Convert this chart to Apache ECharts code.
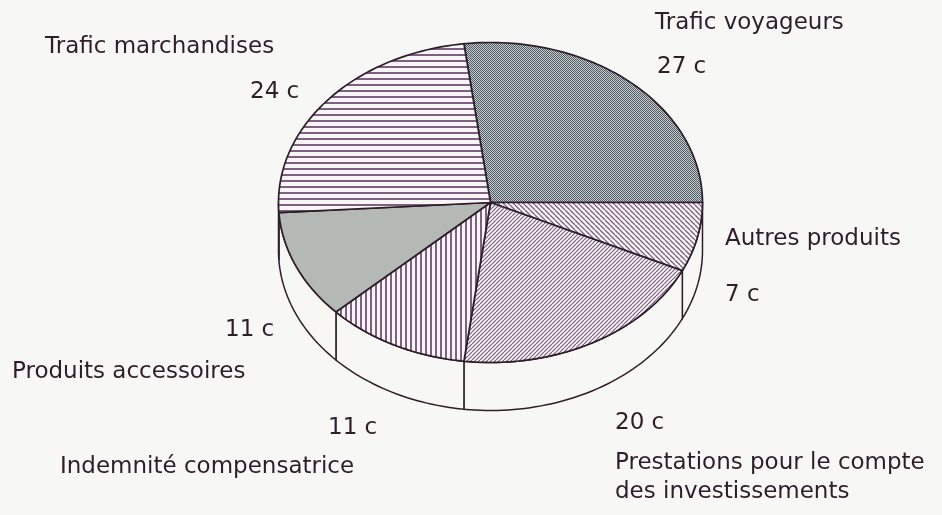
<!DOCTYPE html>
<html>
<head>
<meta charset="utf-8">
<script src="https://cdn.jsdelivr.net/npm/echarts@6/dist/echarts.min.js"></script>
<style>
html, body { margin: 0; padding: 0; background: #f7f7f5; }
#main { width: 942px; height: 515px; }
</style>
</head>
<body>
<div id="main"></div>
<script>
// recettes (en centimes par franc)
var categories = ['Trafic voyageurs', 'Autres produits', 'Prestations pour le compte\ndes investissements', 'Indemnité compensatrice', 'Produits accessoires', 'Trafic marchandises']
var values = [27, 7, 20, 11, 11, 24]
var unit = ' c'

// étiquettes : x gauche, y milieu
var namePos = [[655, 23], [725, 239], [615, 478], [60, 467], [12, 372], [45, 47]]
var valuePos = [[657, 67], [725, 295], [615, 423], [328, 428], [225, 330], [250, 92]]

var ink = '#2e1e2a'
var hatch = '#7e6080'

function makePattern(w, h, draw) {
    var c = document.createElement('canvas')
    c.width = w
    c.height = h
    var ctx = c.getContext('2d')
    ctx.fillStyle = '#f7f5f6'
    ctx.fillRect(0, 0, w, h)
    draw(ctx, w, h)
    return { image: c, repeat: 'repeat' }
}

var fills = [
    // trame serrée
    makePattern(2, 2, function(ctx) {
        ctx.fillStyle = '#bcd2cc'
        ctx.fillRect(0, 0, 2, 2)
        ctx.fillStyle = '#5a5666'
        ctx.fillRect(0, 0, 1, 1)
        ctx.fillRect(1, 1, 1, 1)
    }),
    // hachures \
    makePattern(5, 5, function(ctx, s) {
        ctx.strokeStyle = hatch
        ctx.lineWidth = 1.3
        ;[-s, 0, s].forEach(function(k) {
            ctx.beginPath(); ctx.moveTo(k, 0); ctx.lineTo(k + s, s); ctx.stroke()
        })
    }),
    // hachures /
    makePattern(4, 4, function(ctx, s) {
        ctx.strokeStyle = hatch
        ctx.lineWidth = 1.2
        ;[-s, 0, s].forEach(function(k) {
            ctx.beginPath(); ctx.moveTo(k, s); ctx.lineTo(k + s, 0); ctx.stroke()
        })
    }),
    // verticales
    makePattern(5, 2, function(ctx) {
        ctx.fillStyle = hatch
        ctx.fillRect(0, 0, 2, 2)
    }),
    // gris uni
    '#b5b9b5',
    // horizontales
    makePattern(2, 6, function(ctx) {
        ctx.fillStyle = hatch
        ctx.fillRect(0, 0, 2, 2)
    })
]

var total = values.reduce(function(a, b) { return a + b }, 0)
var startAngle = -7.2 // degrés, sens horaire depuis le haut
var cx = 490.5, cy = 202.5, rx = 212, ry = 160, depth = 48

function pt(deg, dy) {
    var r = deg * Math.PI / 180
    return [cx + rx * Math.sin(r), cy - ry * Math.cos(r) + (dy || 0)]
}

function arc(a0, a1, dy) {
    var pts = []
    var n = Math.max(2, Math.ceil(Math.abs(a1 - a0) / 1.5))
    for (var i = 0; i <= n; i++) {
        pts.push(pt(a0 + (a1 - a0) * i / n, dy))
    }
    return pts
}

var option = {
    backgroundColor: '#f7f7f5',
    animation: false,
    series: [{
        type: 'custom',
        coordinateSystem: 'none',
        data: values,
        renderItem: function(params, api) {
            var i = params.dataIndex
            var before = 0
            for (var k = 0; k < i; k++) before += values[k]
            var a0 = startAngle + before / total * 360
            var a1 = a0 + api.value(0) / total * 360
            var children = []
            // flanc visible (moitié avant)
            var s = Math.max(a0, 90), e = Math.min(a1, 270)
            if (e > s) {
                var side = arc(s, e, 0).concat(arc(e, s, depth))
                children.push({
                    type: 'polygon',
                    shape: { points: side },
                    style: { fill: '#f7f7f5', stroke: ink, lineWidth: 1.5 }
                })
            }
            var top = [[cx, cy]].concat(arc(a0, a1, 0))
            children.push({
                type: 'polygon',
                shape: { points: top },
                style: { fill: fills[i], stroke: ink, lineWidth: 1.7 }
            })
            return { type: 'group', children: children }
        }
    }],
    graphic: []
}

var font = { fontFamily: 'DejaVu Sans', fontSize: 23, fill: ink }
categories.forEach(function(name, i) {
    option.graphic.push({
        type: 'text',
        x: namePos[i][0],
        y: namePos[i][1],
        style: Object.assign({ text: name, verticalAlign: 'middle', lineHeight: 29 }, font)
    })
    option.graphic.push({
        type: 'text',
        x: valuePos[i][0],
        y: valuePos[i][1],
        style: Object.assign({ text: values[i] + unit, verticalAlign: 'middle' }, font)
    })
})

var myChart = echarts.init(document.getElementById('main'))
myChart.setOption(option)
window.addEventListener('resize', function() {
    myChart.resize()
})
</script>
</body>
</html>
